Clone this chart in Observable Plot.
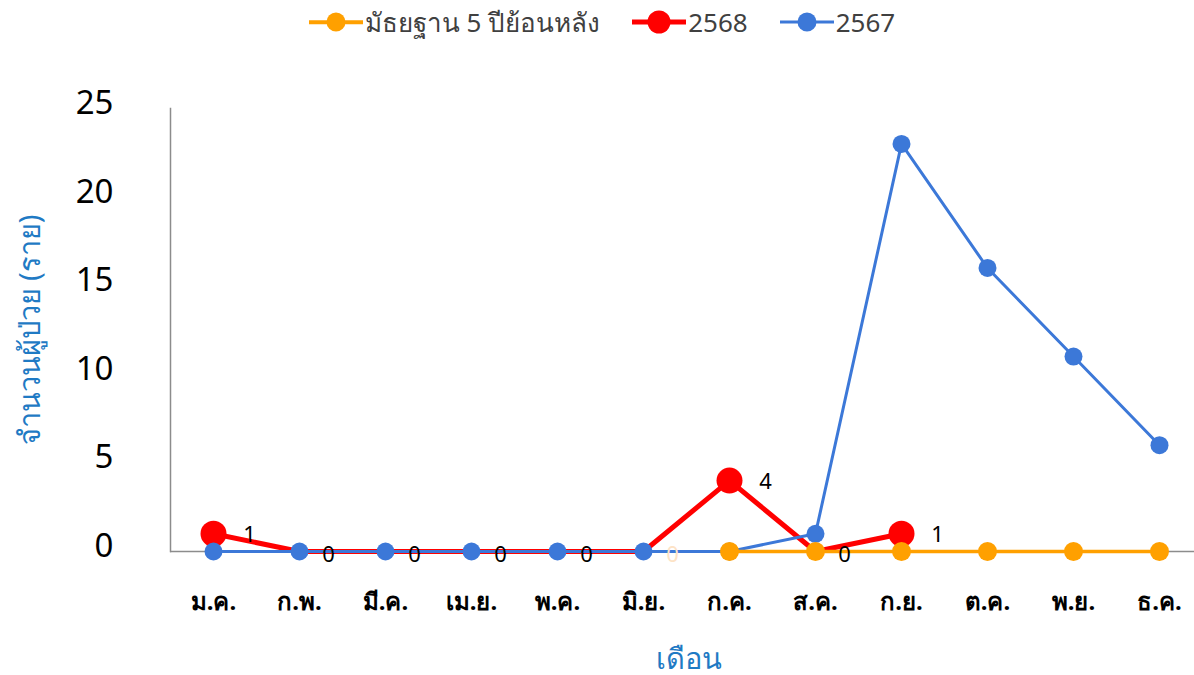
<!DOCTYPE html>
<html>
<head>
<meta charset="utf-8">
<script src="https://cdn.jsdelivr.net/npm/d3@7"></script>
<script src="https://cdn.jsdelivr.net/npm/@observablehq/plot@0.6"></script>
<style>
  body { margin: 0; background: #fff; font-family: "Noto Sans", "DejaVu Sans", sans-serif; }
  #legend { height: 44px; display: flex; justify-content: center; align-items: center; gap: 0; font-size: 26px; color: #404040; padding-left: 10px; }
  .item { display: flex; align-items: center; margin: 0 16px; }
  .sw { position: relative; width: 54px; height: 22px; margin-right: 2px; }
  .sw .ln { position: absolute; left: 0; right: 0; top: 50%; transform: translateY(-50%); }
  .sw .dt { position: absolute; left: 50%; top: 50%; border-radius: 50%; transform: translate(-50%, -50%); }
</style>
</head>
<body>
<div id="legend"></div>
<div id="chart"></div>
<script>
const months = ["ม.ค.", "ก.พ.", "มี.ค.", "เม.ย.", "พ.ค.", "มิ.ย.", "ก.ค.", "ส.ค.", "ก.ย.", "ต.ค.", "พ.ย.", "ธ.ค."];
const median5y = [null, null, null, null, null, null, 0, 0, 0, 0, 0, 0];
const cases2568 = [1, 0, 0, 0, 0, 0, 4, 0, 1, null, null, null];
const cases2567 = [0, 0, 0, 0, 0, 0, 0, 1, 23, 16, 11, 6];
const yTicks = [0, 5, 10, 15, 20, 25];
const seriesNames = ["มัธยฐาน 5 ปีย้อนหลัง", "2568", "2567"];
const yTitle = "จำนวนผู้ป่วย (ราย)";
const xTitle = "เดือน";

const colors = {"มัธยฐาน 5 ปีย้อนหลัง": "#ffa000", "2568": "#ff0000", "2567": "#3c78d8"};
const lineW = {"มัธยฐาน 5 ปีย้อนหลัง": 3.5, "2568": 5, "2567": 3};
const dotR = {"มัธยฐาน 5 ปีย้อนหลัง": 9.5, "2568": 13, "2567": 9};

const toRows = (vals) => months.map((m, i) => ({month: m, value: vals[i]})).filter(d => d.value != null);
const dMed = toRows(median5y);
const d68 = toRows(cases2568);
const d67 = toRows(cases2567);

// legend
const leg = document.getElementById("legend");
seriesNames.forEach(name => {
  const it = document.createElement("div");
  it.className = "item";
  const sw = document.createElement("div");
  sw.className = "sw";
  const ln = document.createElement("div");
  ln.className = "ln";
  ln.style.height = lineW[name] + "px";
  ln.style.background = colors[name];
  const dt = document.createElement("div");
  dt.className = "dt";
  const r = name === "2568" ? 11.5 : 9.5;
  dt.style.width = dt.style.height = (2 * r) + "px";
  dt.style.background = colors[name];
  sw.appendChild(ln); sw.appendChild(dt);
  const tx = document.createElement("span");
  tx.textContent = name;
  it.appendChild(sw); it.appendChild(tx);
  leg.appendChild(it);
});

const labelOf = d => String(d.value);
const labelFill = d => d.month === "มิ.ย." ? "#fde3c6" : "#000";

const chart = Plot.plot({
  width: 1194,
  height: 631,
  marginLeft: 170,
  marginRight: 0,
  marginTop: 64,
  marginBottom: 124,
  style: {fontFamily: "'Noto Sans', 'DejaVu Sans', sans-serif", background: "#fff", overflow: "visible"},
  x: {type: "point", domain: months, range: [211, 1161], padding: 0},
  y: {domain: [0, 25]},
  marks: [
    Plot.axisY({ticks: yTicks, tickSize: 0, tickPadding: 57, fontSize: 33, dy: -5, label: null, fill: "#000"}),
    Plot.axisX({tickSize: 0, tickPadding: 41, fontSize: 24, fontWeight: "bold", label: null, fill: "#000"}),
    Plot.frame({anchor: "left", stroke: "#8c8c8c", strokeWidth: 1.5}),
    Plot.ruleY([0], {stroke: "#8c8c8c", strokeWidth: 1.5}),
    // 2568
    Plot.line(d68, {x: "month", y: "value", stroke: colors["2568"], strokeWidth: lineW["2568"]}),
    Plot.dot(d68.filter(d => d.value > 0), {x: "month", y: "value", r: dotR["2568"], fill: colors["2568"]}),
    // 2567
    Plot.line(d67, {x: "month", y: "value", stroke: colors["2567"], strokeWidth: lineW["2567"]}),
    Plot.dot(d67, {x: "month", y: "value", r: dotR["2567"], fill: colors["2567"]}),
    // median
    Plot.line(dMed, {x: "month", y: "value", stroke: colors["มัธยฐาน 5 ปีย้อนหลัง"], strokeWidth: lineW["มัธยฐาน 5 ปีย้อนหลัง"]}),
    Plot.dot(dMed, {x: "month", y: "value", r: dotR["มัธยฐาน 5 ปีย้อนหลัง"], fill: colors["มัธยฐาน 5 ปีย้อนหลัง"]}),
    // data labels for 2568
    Plot.text(d68.filter(d => d.value > 0), {x: "month", y: "value", text: labelOf, dx: 36, dy: 1, fontSize: 22, fill: labelFill, textAnchor: "middle"}),
    Plot.text(d68.filter(d => d.value === 0), {x: "month", y: "value", text: labelOf, dx: 29, dy: 3, fontSize: 22, fill: labelFill, textAnchor: "middle"}),
    // axis titles
    Plot.text([yTitle], {frameAnchor: "left", textAnchor: "middle", rotate: -90, dx: -140, fontSize: 29, fill: "#1f7ac4"}),
    Plot.text([xTitle], {frameAnchor: "bottom", dy: 117, dx: 6, fontSize: 29, fill: "#1f7ac4"})
  ]
});
document.getElementById("chart").appendChild(chart);
</script>
</body>
</html>
